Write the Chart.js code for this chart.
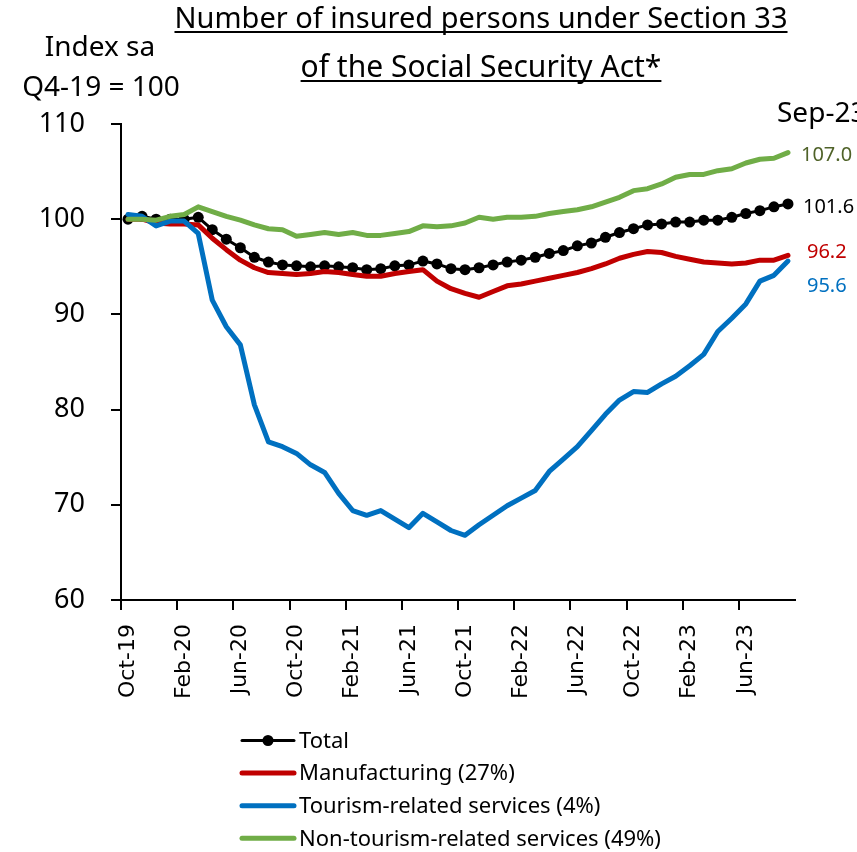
<!DOCTYPE html>
<html>
<head>
<meta charset="utf-8">
<script src="https://cdn.jsdelivr.net/npm/chart.js@4"></script>
<style>
  html, body { margin: 0; padding: 0; background: #fff; }
  #wrap { width: 857px; height: 852px; position: relative; }
</style>
</head>
<body>
<div id="wrap"><canvas id="chart"></canvas></div>
<script>
//Months, Oct-19 to Sep-23
const months = ["Oct-19","Nov-19","Dec-19","Jan-20","Feb-20","Mar-20","Apr-20","May-20","Jun-20","Jul-20","Aug-20","Sep-20",
  "Oct-20","Nov-20","Dec-20","Jan-21","Feb-21","Mar-21","Apr-21","May-21","Jun-21","Jul-21","Aug-21","Sep-21",
  "Oct-21","Nov-21","Dec-21","Jan-22","Feb-22","Mar-22","Apr-22","May-22","Jun-22","Jul-22","Aug-22","Sep-22",
  "Oct-22","Nov-22","Dec-22","Jan-23","Feb-23","Mar-23","Apr-23","May-23","Jun-23","Jul-23","Aug-23","Sep-23"];
//Index values (sa, Q4-19 = 100)
const total = [100.0,100.3,100.0,100.0,100.0,100.2,98.9,97.9,97.0,96.0,95.5,95.2,
  95.1,95.0,95.1,95.0,94.9,94.7,94.8,95.1,95.2,95.6,95.3,94.8,
  94.7,94.9,95.2,95.5,95.7,96.0,96.4,96.7,97.2,97.5,98.1,98.6,
  99.0,99.4,99.5,99.7,99.7,99.9,99.9,100.2,100.6,100.9,101.3,101.6];
const manufacturing = [100.0,100.0,99.6,99.5,99.5,99.4,98.0,96.8,95.7,94.9,94.4,94.3,
  94.2,94.3,94.5,94.4,94.2,94.0,94.0,94.3,94.5,94.7,93.5,92.7,
  92.2,91.8,92.4,93.0,93.2,93.5,93.8,94.1,94.4,94.8,95.3,95.9,
  96.3,96.6,96.5,96.1,95.8,95.5,95.4,95.3,95.4,95.7,95.7,96.2];
const tourism = [100.5,100.3,99.3,99.8,99.8,98.5,91.5,88.7,86.8,80.5,76.6,76.1,
  75.4,74.2,73.4,71.2,69.4,68.9,69.4,68.5,67.6,69.1,68.2,67.3,
  66.8,67.9,68.9,69.9,70.7,71.5,73.5,74.8,76.1,77.8,79.5,81.0,
  81.9,81.8,82.7,83.5,84.6,85.8,88.2,89.6,91.1,93.5,94.1,95.6];
const nonTourism = [100.0,100.0,99.9,100.3,100.5,101.3,100.8,100.3,99.9,99.4,99.0,98.9,
  98.2,98.4,98.6,98.4,98.6,98.3,98.3,98.5,98.7,99.3,99.2,99.3,
  99.6,100.2,100.0,100.2,100.2,100.3,100.6,100.8,101.0,101.3,101.8,102.3,
  103.0,103.2,103.7,104.4,104.7,104.7,105.1,105.3,105.9,106.3,106.4,107.0];
const seriesNames = ["Total", "Manufacturing (27%)", "Tourism-related services (4%)", "Non-tourism-related services (49%)"];
const titleLines = ["Number of insured persons under Section 33", "of the Social Security Act*"];
const unitLines = ["Index sa", "Q4-19 = 100"];
const yTicks = [60, 70, 80, 90, 100, 110];

const FONT = '"Noto Sans", sans-serif';

//text drawn around the plot: title, unit, end values, legend
const annotate = {
  id: "annotate",
  afterDraw(chart) {
    const ctx = chart.ctx;
    const x = chart.scales.x, y = chart.scales.y;
    ctx.save();
    ctx.fillStyle = "#000";
    ctx.textBaseline = "alphabetic";

    //underlined title
    ctx.textAlign = "center";
    const tBase = [28, 77];
    const tSize = [29, 30];
    titleLines.forEach((t, i) => {
      ctx.font = tSize[i] + "px " + FONT;
      ctx.fillText(t, 481, tBase[i]);
      const w = ctx.measureText(t).width;
      ctx.fillRect(481 - w / 2, tBase[i] + 3, w, 2);
    });

    //unit
    ctx.font = "28px " + FONT;
    ctx.fillText(unitLines[0], 100, 56);
    ctx.fillText(unitLines[1], 101, 96);

    //last month
    const last = months.length - 1;
    ctx.textAlign = "left";
    ctx.fillText(months[last], 777, 122);

    //end values
    ctx.font = "20px " + FONT;
    ctx.textBaseline = "middle";
    const endColors = ["#000000", "#c00000", "#0070c0", "#4f6228"];
    const nudge = [[15, 3], [19, -3], [19, 25], [13, 3]];
    chart.data.datasets.forEach((ds, i) => {
      const v = ds.data[last];
      ctx.fillStyle = endColors[i];
      ctx.fillText(v.toFixed(1), x.getPixelForValue(last) + nudge[i][0], y.getPixelForValue(v) + nudge[i][1]);
    });

    //legend
    ctx.font = "22px " + FONT;
    ctx.fillStyle = "#000";
    chart.data.datasets.forEach((ds, i) => {
      const ly = 740.5 + i * 32.6;
      ctx.strokeStyle = ds.borderColor;
      ctx.lineWidth = ds.borderWidth;
      ctx.lineCap = "round";
      ctx.beginPath();
      ctx.moveTo(242, ly);
      ctx.lineTo(294, ly);
      ctx.stroke();
      if (ds.pointRadius > 0) {
        ctx.beginPath();
        ctx.arc(268, ly, ds.pointRadius, 0, Math.PI * 2);
        ctx.fillStyle = ds.pointBackgroundColor;
        ctx.fill();
      }
      ctx.fillStyle = "#000";
      ctx.fillText(ds.label, 299, ly + 1);
    });
    ctx.restore();
  }
};

new Chart(document.getElementById("chart"), {
  type: "line",
  plugins: [annotate],
  data: {
    labels: months,
    datasets: [
      { label: seriesNames[0], data: total, borderColor: "#000000", backgroundColor: "#000000",
        borderWidth: 3, pointRadius: 5.5, pointBackgroundColor: "#000000", pointBorderWidth: 0, order: 4 },
      { label: seriesNames[1], data: manufacturing, borderColor: "#c00000",
        borderWidth: 5, pointRadius: 0, order: 3 },
      { label: seriesNames[2], data: tourism, borderColor: "#0070c0",
        borderWidth: 5, pointRadius: 0, order: 2 },
      { label: seriesNames[3], data: nonTourism, borderColor: "#70ad47",
        borderWidth: 5, pointRadius: 0, order: 1 },
    ],
  },
  options: {
    responsive: true,
    maintainAspectRatio: false,
    animation: false,
    layout: { padding: { top: 124, right: 62, left: 0, bottom: 0 } },
    elements: { line: { tension: 0, borderJoinStyle: "round", borderCapStyle: "round" } },
    plugins: {
      legend: { display: false },
      tooltip: { enabled: false },
      title: { display: false },
    },
    scales: {
      x: {
        type: "category",
        offset: true,
        afterFit: (s) => { s.height = 252; },
        grid: {
          offset: true,
          drawOnChartArea: false,
          tickLength: 10,
          lineWidth: 2,
          color: (c) => (c.index % 4 === 0 ? "#000" : "rgba(0,0,0,0)"),
        },
        border: { display: true, color: "#000", width: 2 },
        ticks: {
          autoSkip: false,
          minRotation: 90,
          maxRotation: 90,
          padding: 14,
          color: "#000",
          font: { family: '"DejaVu Sans"', size: 22 },
          callback: (v, i) => (i % 4 === 0 ? months[i] : ""),
        },
      },
      y: {
        min: yTicks[0],
        max: yTicks[yTicks.length - 1],
        afterFit: (s) => { s.width = 121; },
        afterBuildTicks: (s) => { s.ticks = yTicks.map((v) => ({ value: v })); },
        grid: { drawOnChartArea: false, tickLength: 10, lineWidth: 2, color: "#000" },
        border: { display: true, color: "#000", width: 2 },
        ticks: { padding: 26, color: "#000", font: { family: FONT, size: 27 } },
      },
    },
  },
});
</script>
</body>
</html>
